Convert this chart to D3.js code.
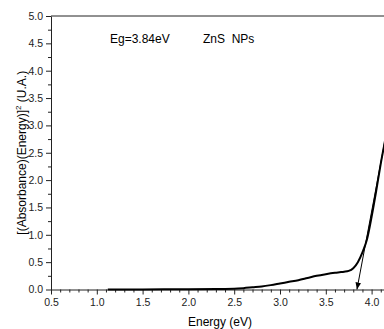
<!DOCTYPE html>
<html>
<head>
<meta charset="utf-8">
<script src="https://cdn.jsdelivr.net/npm/d3@7"></script>
<style>
  body { margin: 0; background: #fff; }
  svg { display: block; font-family: Arial, "Liberation Sans", sans-serif; }
</style>
</head>
<body>
<div id="chart"></div>
<script>
// Data
let energy = [1.12, 1.5, 2.0, 2.3, 2.5, 2.6, 2.7, 2.8, 2.9, 3.0, 3.1, 3.2, 3.3, 3.4, 3.5, 3.6, 3.65, 3.7, 3.75, 3.8, 3.85, 3.9, 3.95, 4.0, 4.05, 4.1, 4.15, 4.2];
let absorb = [0, 0.002, 0.005, 0.01, 0.015, 0.025, 0.04, 0.055, 0.08, 0.11, 0.14, 0.17, 0.21, 0.25, 0.28, 0.305, 0.315, 0.325, 0.34, 0.39, 0.5, 0.68, 0.92, 1.33, 1.8, 2.3, 2.75, 3.2];
let tangentX = [3.84, 4.16];
let tangentY = [0, 2.85];
let xTicks = [0.5, 1.0, 1.5, 2.0, 2.5, 3.0, 3.5, 4.0];
let yTicks = [0.0, 0.5, 1.0, 1.5, 2.0, 2.5, 3.0, 3.5, 4.0, 4.5, 5.0];

let svgWidth = 384;
let svgHeight = 329;

let margin = { top: 16, left: 51 };
let plotBottom = 289.5;

let svg = d3.select("#chart")
  .append("svg")
  .attr("width", svgWidth)
  .attr("height", svgHeight);

let x = d3.scaleLinear().domain([0.5, 4.5]).range([margin.left, margin.left + 91.6 * 4]);
let y = d3.scaleLinear().domain([0, 5]).range([plotBottom, margin.top]);

// minor ticks
let xMinor = d3.range(0.5, 4.51, 0.1).filter(v => Math.abs(v * 2 - Math.round(v * 2)) > 1e-6);
let yMinor = d3.range(0.25, 5, 0.5);

svg.append("g")
  .attr("transform", `translate(0,${plotBottom})`)
  .call(d3.axisBottom(x).tickValues(xMinor).tickSize(3).tickFormat(""))
  .call(g => g.select(".domain").remove());

svg.append("g")
  .attr("transform", `translate(${margin.left},0)`)
  .call(d3.axisLeft(y).tickValues(yMinor).tickSize(3).tickFormat(""))
  .call(g => g.select(".domain").remove());

let xAxis = svg.append("g")
  .attr("transform", `translate(0,${plotBottom})`)
  .call(d3.axisBottom(x).tickValues(xTicks).tickSize(5).tickPadding(4).tickFormat(d3.format(".1f")).tickSizeOuter(0));

let yAxis = svg.append("g")
  .attr("transform", `translate(${margin.left},0)`)
  .call(d3.axisLeft(y).tickValues(yTicks).tickSize(5).tickPadding(3).tickFormat(d3.format(".1f")).tickSizeOuter(0));

svg.selectAll(".tick text").attr("font-size", 10.5).attr("fill", "#222");
svg.selectAll(".tick line, .domain").attr("stroke", "#222");

// top frame line
svg.append("line")
  .attr("x1", margin.left).attr("x2", svgWidth)
  .attr("y1", margin.top).attr("y2", margin.top)
  .attr("stroke", "#222");

// curve
let line = d3.line()
  .x(d => x(d[0]))
  .y(d => y(d[1]))
  .curve(d3.curveMonotoneX);

svg.append("path")
  .datum(energy.map((e, i) => [e, absorb[i]]))
  .attr("d", line)
  .attr("fill", "none")
  .attr("stroke", "#000")
  .attr("stroke-width", 2);

// tangent line with arrow
svg.append("defs").append("marker")
  .attr("id", "arrow")
  .attr("viewBox", "0 0 10 10")
  .attr("refX", 10).attr("refY", 5)
  .attr("markerWidth", 7).attr("markerHeight", 7)
  .attr("orient", "auto-start-reverse")
  .append("path")
  .attr("d", "M0,1 L10,5 L0,9 Z")
  .attr("fill", "#000");

svg.append("line")
  .attr("x1", x(tangentX[0])).attr("y1", y(tangentY[0]))
  .attr("x2", x(tangentX[1])).attr("y2", y(tangentY[1]))
  .attr("stroke", "#000")
  .attr("stroke-width", 1)
  .attr("marker-start", "url(#arrow)");

// labels
svg.append("text")
  .attr("x", 110).attr("y", 43)
  .attr("font-size", 12)
  .text("Eg=3.84eV");

svg.append("text")
  .attr("x", 203).attr("y", 43)
  .attr("font-size", 12)
  .attr("xml:space", "preserve")
  .style("white-space", "pre")
  .text("ZnS  NPs");

svg.append("text")
  .attr("x", 220).attr("y", 326)
  .attr("text-anchor", "middle")
  .attr("font-size", 12)
  .text("Energy (eV)");

let yLabel = svg.append("text")
  .attr("transform", `translate(26,${(margin.top + plotBottom) / 2}) rotate(-90)`)
  .attr("text-anchor", "middle")
  .attr("font-size", 12);
yLabel.append("tspan").text("[(Absorbance)(Energy)]");
yLabel.append("tspan").attr("dy", -5).attr("font-size", 8).text("2");
yLabel.append("tspan").attr("dy", 5).text(" (U.A.)");
</script>
</body>
</html>
